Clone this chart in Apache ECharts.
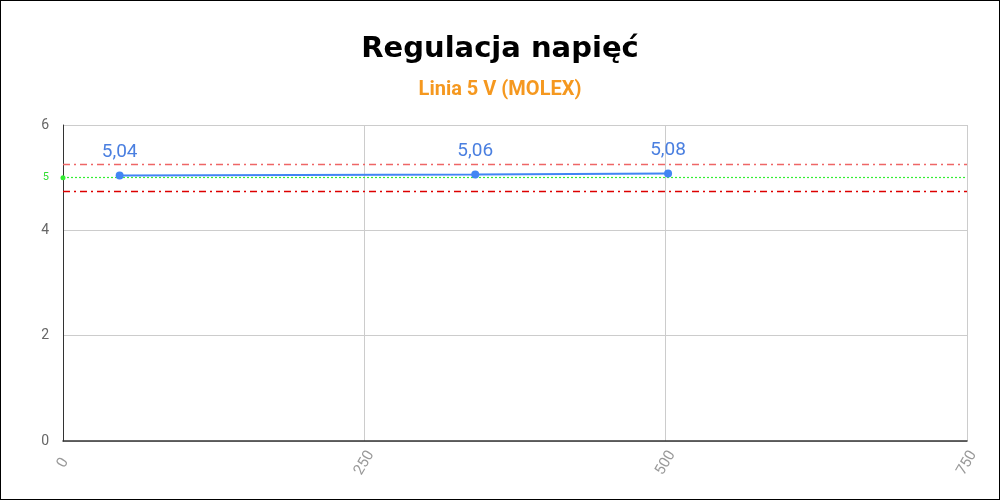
<!DOCTYPE html>
<html>
<head>
<meta charset="utf-8">
<script src="https://cdn.jsdelivr.net/npm/echarts@6/dist/echarts.min.js"></script>
<style>
  html, body { margin: 0; padding: 0; background: #fff; }
  #chart { width: 998px; height: 498px; border: 1px solid #000; }
</style>
</head>
<body>
<div id="chart"></div>
<script>
var loadWatts = [47, 342, 502];
var voltages = [5.04, 5.06, 5.08];
var nominal = 5;
var upperLimit = 5.25;
var lowerLimit = 4.75;
var xTicks = [0, 250, 500, 750];
var yTicks = [0, 2, 4, 6];

var points = loadWatts.map(function (x, i) { return [x, voltages[i]]; });

// one empty series per reference line, so each keeps its own style
function refLine(value, style, symbol, label) {
    return {
        type: 'line',
        data: [],
        silent: true,
        markLine: {
            silent: true,
            animation: false,
            symbol: symbol || ['none', 'none'],
            symbolSize: 5,
            itemStyle: { color: style.color },
            lineStyle: style,
            label: label || { show: false },
            data: [{ yAxis: value }]
        }
    };
}

var option = {
    animation: false,
    backgroundColor: '#fff',
    title: {
        text: 'Regulacja napięć',
        subtext: 'Linia 5 V (MOLEX)',
        left: 'center',
        top: 29,
        itemGap: 16,
        textStyle: { fontFamily: 'DejaVu Sans', fontWeight: 'bold', fontSize: 29, color: '#000' },
        subtextStyle: { fontFamily: 'Roboto', fontWeight: 'bold', fontSize: 20, color: '#f5981f' }
    },
    grid: { left: 62, right: 32, top: 124, bottom: 58 },
    xAxis: {
        type: 'value',
        min: xTicks[0],
        max: xTicks[xTicks.length - 1],
        interval: 250,
        axisLine: { show: true, lineStyle: { color: '#333', width: 1.5 } },
        axisTick: { show: false },
        splitLine: { lineStyle: { color: '#ccc' } },
        axisLabel: {
            rotate: 60, align: 'center', verticalAlign: 'middle',
            color: '#999', fontFamily: 'Roboto', fontSize: 15, margin: 22
        }
    },
    yAxis: {
        type: 'value',
        min: yTicks[0],
        max: yTicks[yTicks.length - 1],
        interval: 2,
        axisLine: { show: true, lineStyle: { color: '#333' } },
        axisTick: { show: false },
        splitLine: { lineStyle: { color: '#ccc' } },
        axisLabel: { color: '#666', fontFamily: 'Roboto', fontSize: 14, margin: 14 }
    },
    series: [
        {
            type: 'line',
            data: points,
            symbol: 'circle',
            symbolSize: 8,
            z: 5,
            itemStyle: { color: '#4285f4' },
            lineStyle: { color: '#4285f4', width: 2 },
            label: {
                show: true,
                position: 'top',
                distance: 10,
                color: '#4a7fe0',
                fontFamily: 'Roboto',
                fontSize: 19,
                formatter: function (p) { return p.value[1].toFixed(2).replace('.', ','); }
            }
        },
        refLine(upperLimit, { color: '#ee6666', type: [7, 4, 2, 4], width: 1.3 }),
        refLine(lowerLimit, { color: '#dd0000', type: [7, 4, 2, 4], width: 1.3 }),
        refLine(nominal, { color: '#33ee33', type: [2, 2], width: 1.2 }, ['circle', 'none'], {
            show: true,
            position: 'start',
            distance: 14,
            formatter: '5',
            color: '#33dd33',
            fontFamily: 'Roboto',
            fontSize: 11
        })
    ]
};

var myChart = echarts.init(document.getElementById('chart'));
myChart.setOption(option);
</script>
</body>
</html>
